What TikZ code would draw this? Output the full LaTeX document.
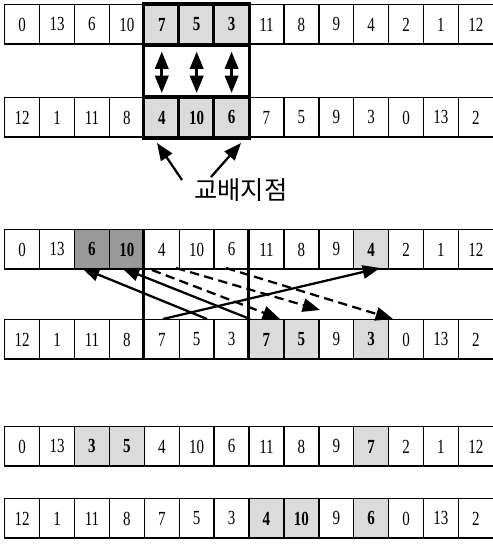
\documentclass[tikz,border=0pt]{standalone}
\usepackage{fontspec}
\setmainfont{Liberation Serif}[FakeStretch=0.75]
\newfontfamily\krfont{Noto Sans CJK KR}
\usetikzlibrary{arrows.meta}
\tikzset{
  cellbox/.style={draw, line width=1.1pt, minimum width=26.175pt, minimum height=29.6pt, inner sep=0pt, anchor=north west, font=\fontsize{15}{15}\selectfont},
  hilite/.style={fill=gray!28, font=\fontsize{15}{15}\selectfont\bfseries},
  darkcell/.style={fill=gray!80, font=\fontsize{15}{15}\selectfont\bfseries},
  thick line/.style={line width=2.4pt},
  tipS/.style={-{Triangle[length=13pt,width=10pt]}},
  swaparrow/.style={{Triangle[length=13pt,width=10pt]}-{Triangle[length=13pt,width=10pt]}, line width=2pt},
  conn/.style={line width=1.7pt},
}
\begin{document}
\begin{tikzpicture}[x=0.75pt,y=-0.75pt]
\useasboundingbox (0,0) rectangle (493,544);
\def\cellrow#1#2#3{%
  \foreach \v [count=\i from 0] in {#3} {%
    \node[cellbox] (#1\i) at ({4+34.9*\i},#2) {\v};
  }%
}
% Row 1
\cellrow{a}{4}{0,13,6,10,7,5,3,11,8,9,4,2,1,12}
\foreach \i/\v in {4/7,5/5,6/3} \node[cellbox,hilite] (a\i) at ({4+34.9*\i},4) {\v};
% Row 2
\cellrow{b}{97}{12,1,11,8,4,10,6,7,5,9,3,0,13,2}
\foreach \i/\v in {4/4,5/10,6/6} \node[cellbox,hilite] (b\i) at ({4+34.9*\i},97) {\v};
% thick frame of the exchanged segment
\draw[thick line] (a4.north west) rectangle (b6.south east);
\draw[thick line] (a4.south west) -- (a6.south east);
\draw[thick line] (b4.north west) -- (b6.north east);
\draw[thick line] (a5.north west) -- (a5.south west) (a6.north west) -- (a6.south west);
\draw[thick line] (b5.north west) -- (b5.south west) (b6.north west) -- (b6.south west);
\foreach \i in {4,5,6} \draw[swaparrow] ([yshift=-5pt]a\i.south) -- ([yshift=3pt]b\i.north);
% label
\node[font=\krfont\fontsize{19}{19}\selectfont] (lbl) at (241,190) {교배지점};
\coordinate (l1) at (182,180);
\coordinate (l2) at (211,177);
\coordinate (t1) at (157,143);
\coordinate (t2) at (241,143);
\draw[conn,tipS] (l1) -- (t1);
\draw[conn,tipS] (l2) -- (t2);
% Row 3
\cellrow{c}{229}{0,13,6,10,4,10,6,11,8,9,4,2,1,12}
\foreach \i/\v in {2/6,3/10} \node[cellbox,darkcell] (c\i) at ({4+34.9*\i},229) {\v};
\node[cellbox,hilite] (c10) at ({4+34.9*10},229) {4};
% Row 4
\cellrow{d}{319}{12,1,11,8,7,5,3,7,5,9,3,0,13,2}
\foreach \i/\v in {7/7,8/5,10/3} \node[cellbox,hilite] (d\i) at ({4+34.9*\i},319) {\v};
\draw[thick line] (c4.north west) -- (d4.south west);
\draw[thick line] (c7.north west) -- (d7.south west);
% crossing arrows
\coordinate (s1a) at (163,319); \coordinate (s1b) at (380,268);
\coordinate (s2a) at (207,319); \coordinate (s2b) at (82,268);
\coordinate (s3a) at (250,319); \coordinate (s3b) at (122,268);
\draw[conn,tipS] (s1a) -- (s1b);
\draw[conn,tipS] (s2a) -- (s2b);
\draw[conn,tipS] (s3a) -- (s3b);
\coordinate (d1a) at (152,270); \coordinate (d1b) at (280,319);
\coordinate (d2a) at (176,268); \coordinate (d2b) at (320,310);
\coordinate (d3a) at (226,268); \coordinate (d3b) at (393,319);
\draw[conn,dash pattern=on 7pt off 4pt,tipS] (d1a) -- (d1b);
\draw[conn,dash pattern=on 7pt off 4pt,tipS] (d2a) -- (d2b);
\draw[conn,dash pattern=on 7pt off 4pt,tipS] (d3a) -- (d3b);
% Row 5
\cellrow{e}{426}{0,13,3,5,4,10,6,11,8,9,7,2,1,12}
\foreach \i/\v in {2/3,3/5,10/7} \node[cellbox,hilite] (e\i) at ({4+34.9*\i},426) {\v};
% Row 6
\cellrow{f}{498}{12,1,11,8,7,5,3,4,10,9,6,0,13,2}
\foreach \i/\v in {7/4,8/10,10/6} \node[cellbox,hilite] (f\i) at ({4+34.9*\i},498) {\v};
\end{tikzpicture}
\end{document}
